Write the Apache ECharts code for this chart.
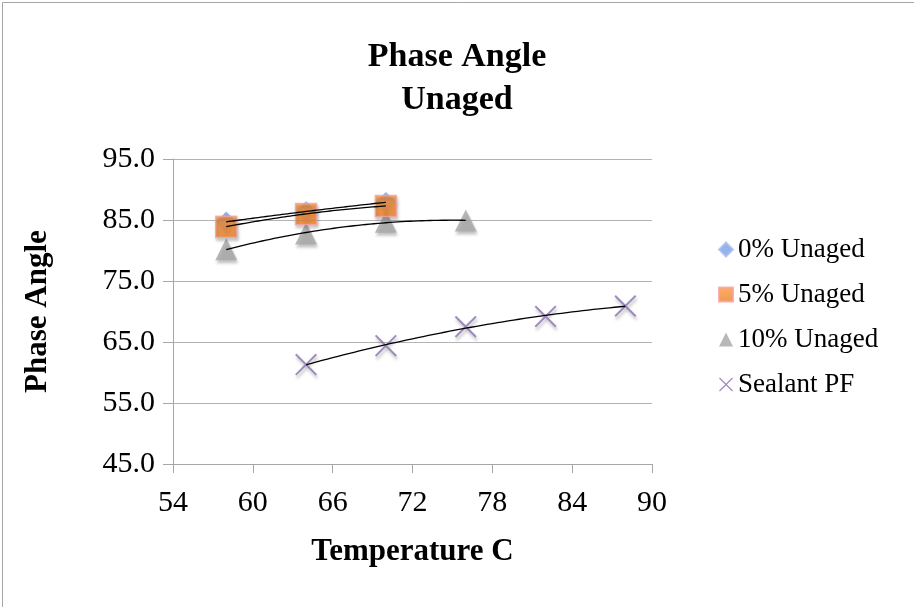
<!DOCTYPE html>
<html>
<head>
<meta charset="utf-8">
<script src="https://cdn.jsdelivr.net/npm/echarts@6/dist/echarts.min.js"></script>
<style>
  html, body { margin: 0; padding: 0; background: #fff; }
  #chart { width: 914px; height: 607px; }
</style>
</head>
<body>
<div id="chart"></div>
<script>
// Temperatures (°C) at which each binder was tested
const temps0 = [58, 64, 70];
const temps5 = [58, 64, 70];
const temps10 = [58, 64, 70, 76];
const tempsSealant = [64, 70, 76, 82, 88];

// Phase angle (degrees)
const phase0 = [84.7, 86.4, 87.9];
const phase5 = [83.9, 86.0, 87.3];
const phase10 = [80.2, 82.8, 84.7, 84.9];
const phaseSealant = [61.3, 64.4, 67.5, 69.2, 70.9];

const seriesNames = ['0% Unaged', '5% Unaged', '10% Unaged', 'Sealant PF'];
const xTicks = [54, 60, 66, 72, 78, 84, 90];
const yTicks = [45, 55, 65, 75, 85, 95];

const FONT = '"Liberation Serif", "Times New Roman", serif';
const CROSS = 'path://M0,1.3L1.3,0L10,8.7L18.7,0L20,1.3L11.3,10L20,18.7L18.7,20L10,11.3L1.3,20L0,18.7L8.7,10Z';

// Second-order polynomial least-squares trendline
function polyTrend(xs, ys, steps) {
  const n = xs.length;
  let s = [0, 0, 0, 0, 0], t = [0, 0, 0];
  for (let i = 0; i < n; i++) {
    const x = xs[i], y = ys[i];
    for (let k = 0; k <= 4; k++) s[k] += Math.pow(x, k);
    for (let k = 0; k <= 2; k++) t[k] += Math.pow(x, k) * y;
  }
  const A = [[s[0], s[1], s[2]], [s[1], s[2], s[3]], [s[2], s[3], s[4]]];
  const b = t.slice();
  for (let i = 0; i < 3; i++) {
    let p = i;
    for (let r = i + 1; r < 3; r++) if (Math.abs(A[r][i]) > Math.abs(A[p][i])) p = r;
    [A[i], A[p]] = [A[p], A[i]]; [b[i], b[p]] = [b[p], b[i]];
    for (let r = i + 1; r < 3; r++) {
      const f = A[r][i] / A[i][i];
      for (let c = i; c < 3; c++) A[r][c] -= f * A[i][c];
      b[r] -= f * b[i];
    }
  }
  const c = [0, 0, 0];
  for (let i = 2; i >= 0; i--) {
    let sum = b[i];
    for (let k = i + 1; k < 3; k++) sum -= A[i][k] * c[k];
    c[i] = sum / A[i][i];
  }
  const lo = Math.min(...xs), hi = Math.max(...xs);
  const pts = [];
  for (let j = 0; j <= steps; j++) {
    const x = lo + (hi - lo) * j / steps;
    pts.push([x, c[0] + c[1] * x + c[2] * x * x]);
  }
  return pts;
}

const zip = (xs, ys) => xs.map((x, i) => [x, ys[i]]);

const shadow = { shadowBlur: 3, shadowOffsetX: 1, shadowOffsetY: 3, shadowColor: 'rgba(0,0,0,0.3)' };

function trendSeries(name, xs, ys) {
  return {
    name: name, type: 'line', data: polyTrend(xs, ys, 60),
    showSymbol: false, symbol: 'none', smooth: false, z: 5,
    lineStyle: { color: '#000', width: 1.3 }, silent: true
  };
}

const chart = echarts.init(document.getElementById('chart'), null, { renderer: 'canvas' });

chart.setOption({
  animation: false,
  backgroundColor: '#fff',
  title: {
    text: 'Phase Angle\nUnaged',
    left: 'center', top: 31,
    textStyle: { fontFamily: FONT, fontSize: 34, fontWeight: 'bold', lineHeight: 43, color: '#000' }
  },
  graphic: [{
    type: 'rect', shape: { x: 2.5, y: 2.5, width: 1000, height: 1000 },
    style: { fill: 'none', stroke: '#a6a6a6', lineWidth: 1 }, silent: true
  }],
  legend: {
    data: seriesNames,
    orient: 'vertical', left: 713, top: 231,
    itemGap: 18, itemWidth: 14, itemHeight: 14,
    textStyle: { fontFamily: FONT, fontSize: 27, color: '#000' }
  },
  grid: { left: 173, right: 262, top: 159, bottom: 143 },
  xAxis: {
    type: 'value', min: xTicks[0], max: xTicks[xTicks.length - 1], interval: 6,
    name: 'Temperature C', nameLocation: 'middle', nameGap: 72,
    nameTextStyle: { fontFamily: FONT, fontSize: 31, fontWeight: 'bold', color: '#000' },
    axisLine: { show: true, lineStyle: { color: '#a6a6a6', width: 1 } },
    axisTick: { show: true, inside: false, length: 9, lineStyle: { color: '#a6a6a6' } },
    axisLabel: { fontFamily: FONT, fontSize: 30, color: '#000', margin: 24 },
    splitLine: { show: false }
  },
  yAxis: {
    type: 'value', min: yTicks[0], max: yTicks[yTicks.length - 1], interval: 10,
    name: 'Phase Angle', nameLocation: 'middle', nameGap: 120, nameRotate: 90,
    nameTextStyle: { fontFamily: FONT, fontSize: 31, fontWeight: 'bold', color: '#000' },
    axisLine: { show: true, lineStyle: { color: '#a6a6a6', width: 1 } },
    axisTick: { show: true, inside: false, length: 10, lineStyle: { color: '#a6a6a6' } },
    axisLabel: { fontFamily: FONT, fontSize: 30, color: '#000', margin: 18, formatter: v => v.toFixed(1) },
    splitLine: { show: true, lineStyle: { color: '#b3b3b3', width: 1 } }
  },
  series: [
    {
      name: seriesNames[0], type: 'scatter', data: zip(temps0, phase0),
      symbol: 'diamond', symbolSize: 20, z: 2,
      itemStyle: Object.assign({ color: '#7b9fe3', borderColor: '#a9bdf5', borderWidth: 1 }, shadow)
    },
    {
      name: seriesNames[1], type: 'scatter', data: zip(temps5, phase5),
      symbol: 'rect', symbolSize: 21, z: 3,
      itemStyle: Object.assign({
        color: new echarts.graphic.LinearGradient(0, 0, 0, 1, [
          { offset: 0, color: '#fa9a45' }, { offset: 1, color: '#ee7f22' }
        ]),
        borderColor: '#f6a1a0', borderWidth: 1.5
      }, shadow)
    },
    {
      name: seriesNames[2], type: 'scatter', data: zip(temps10, phase10),
      symbol: 'triangle', symbolSize: [22, 22], z: 2,
      itemStyle: Object.assign({ color: '#a6a6a6' }, shadow)
    },
    {
      name: seriesNames[3], type: 'scatter', data: zip(tempsSealant, phaseSealant),
      symbol: CROSS, symbolSize: 22, z: 3,
      itemStyle: Object.assign({ color: '#8a72b0' }, shadow)
    },
    trendSeries('trend0', temps0, phase0),
    trendSeries('trend5', temps5, phase5),
    trendSeries('trend10', temps10, phase10),
    trendSeries('trendSealant', tempsSealant, phaseSealant)
  ]
});
</script>
</body>
</html>
